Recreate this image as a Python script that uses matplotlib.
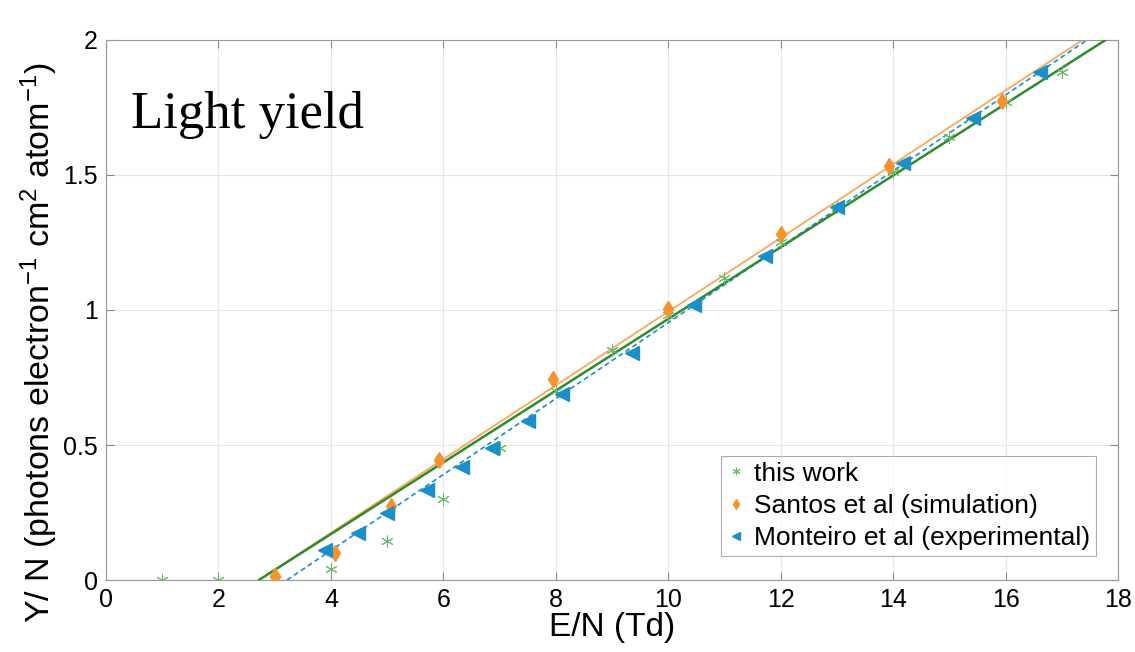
import matplotlib
matplotlib.use("Agg")
import matplotlib.pyplot as plt
import numpy as np

plt.rcParams["font.family"] = ["Liberation Sans", "DejaVu Sans"]
plt.rcParams["mathtext.default"] = "regular"

# this work
this_x = [1, 2, 3, 4, 5, 6, 7, 8, 9, 10, 11, 12, 13, 14, 15, 16, 17]
this_y = [0, 0, 0, 0.04, 0.145, 0.30, 0.49, 0.70, 0.85, 0.98, 1.12, 1.25,
          1.38, 1.51, 1.64, 1.77, 1.88]

# Santos et al (simulation)
santos_x = [3.0, 4.07, 5.07, 5.93, 7.95, 10.0, 12.0, 13.92, 15.93]
santos_y = [0.015, 0.10, 0.275, 0.445, 0.745, 1.005, 1.28, 1.535, 1.775]

# Monteiro et al (experimental)
mont_x = [3.9, 4.48, 5.0, 5.71, 6.34, 6.87, 7.51, 8.11, 9.36, 10.46, 11.73,
          13.0, 14.18, 15.42, 16.62]
mont_y = [0.11, 0.175, 0.25, 0.333, 0.418, 0.49, 0.59, 0.69, 0.84, 1.02,
          1.20, 1.38, 1.545, 1.71, 1.88]

# fitted lines, end points
this_fit_x = [2.72, 17.78]
this_fit_y = [0, 2]
santos_fit_x = [2.72, 17.37]
santos_fit_y = [0, 2]
mont_fit_x = [3.22, 17.45]
mont_fit_y = [0, 2]

green = "#66bb66"
green_line = "#2e8b2e"
orange = "#f7922f"
blue = "#1a8fc8"

fig = plt.figure(figsize=(11.35, 6.52), dpi=100)
ax = fig.add_axes([0.0934, 0.1104, 0.8916, 0.8283])

ax.plot(santos_fit_x, santos_fit_y, color="#f9a85a", lw=1.3, zorder=2)
ax.plot(this_fit_x, this_fit_y, color=green_line, lw=1.8, zorder=3)
ax.plot(mont_fit_x, mont_fit_y, color=blue, lw=1.2, ls=(0, (3, 2)), zorder=2)

ax.plot(this_x, this_y, ls="none", marker=(6, 2, 0), ms=9, mew=0.7,
        color=green, label="this work", zorder=4)
ax.plot(santos_x, santos_y, ls="none", marker="d", ms=8.5, color=orange,
        label="Santos et al (simulation)", zorder=4)
ax.plot(mont_x, mont_y, ls="none", marker="<", ms=10, color=blue,
        label="Monteiro et al (experimental)", zorder=4)

ax.set_xlim(0, 18)
ax.set_ylim(0, 2)
ax.set_xticks(np.arange(0, 19, 2))
ax.set_yticks([0, 0.5, 1, 1.5, 2])
ax.set_yticklabels(["0", "0.5", "1", "1.5", "2"])
ax.grid(True, color="#e6e6e6", lw=0.8)
ax.set_axisbelow(True)
ax.tick_params(direction="in", top=True, right=True, length=6,
               color="#888888", labelsize=18, pad=6)
for s in ax.spines.values():
    s.set_color("#999999")

ax.set_xlabel("E/N (Td)", fontsize=24, labelpad=0)
ax.set_ylabel("Y/ N (photons electron$^{-1}$ cm$^2$ atom$^{-1}$)",
              fontsize=24.5)
ax.yaxis.set_label_coords(-0.045, 0.44)

ax.text(0.025, 0.905, "Light yield", transform=ax.transAxes,
        fontsize=38, family="Liberation Serif", va="top", ha="left")

leg = ax.legend(loc="lower right", bbox_to_anchor=(0.978, 0.045),
                fontsize=19, frameon=True, fancybox=False,
                handlelength=0.7, handletextpad=0.35, borderpad=0.2,
                labelspacing=0.32, markerscale=0.6, borderaxespad=0.0)
leg.get_frame().set_edgecolor("#999999")
leg.get_frame().set_linewidth(0.8)

fig.savefig("out.png", dpi=100)
